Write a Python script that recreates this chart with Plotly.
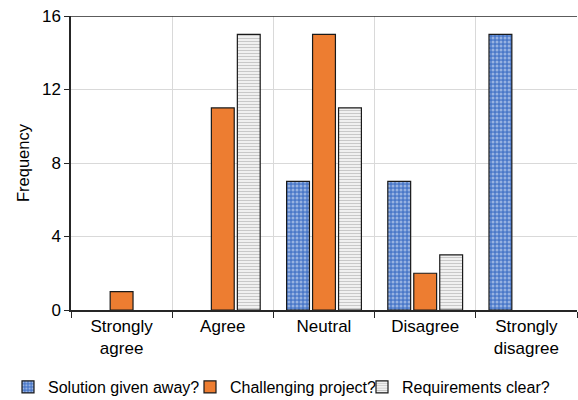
import plotly.graph_objects as go

categories = ["Strongly<br>agree", "Agree", "Neutral", "Disagree", "Strongly<br>disagree"]
solution_given_away = [0, 0, 7, 7, 15]
challenging_project = [1, 11, 15, 2, 0]
requirements_clear = [0, 15, 11, 3, 0]
y_ticks = [0, 4, 8, 12, 16]

FONT = "Liberation Sans, Arial, sans-serif"
W, H = 578, 400
EDGE = dict(color="#1a1a1a", width=1.2)


def drawn(values):
    # zero counts are left blank rather than drawn as flat outlined bars
    return [v if v != 0 else None for v in values]


fig = go.Figure()
fig.add_trace(go.Bar(
    name="Solution given away?", x=categories, y=drawn(solution_given_away), legend="legend",
    marker=dict(
        color="#4472C4", line=EDGE,
        pattern=dict(shape=".", bgcolor="#4a78c8", fgcolor="#e4ecfa",
                     size=4, solidity=0.45, fillmode="overlay"),
    ),
))
fig.add_trace(go.Bar(
    name="Challenging project?", x=categories, y=drawn(challenging_project), legend="legend2",
    marker=dict(color="#ED7D31", line=EDGE),
))
fig.add_trace(go.Bar(
    name="Requirements clear?", x=categories, y=drawn(requirements_clear), legend="legend3",
    marker=dict(
        color="#f2f2f2", line=EDGE,
        pattern=dict(shape="-", bgcolor="#f7f7f7", fgcolor="#9a9a9a",
                     size=3, solidity=0.45, fillmode="overlay"),
    ),
))

legend_common = dict(orientation="h", xref="container", yref="container",
                     yanchor="middle", xanchor="left", font=dict(size=16),
                     itemwidth=30, bgcolor="rgba(0,0,0,0)")

fig.update_layout(
    width=W, height=H,
    margin=dict(l=71, r=1, t=16, b=90, autoexpand=False),
    paper_bgcolor="white", plot_bgcolor="white",
    barmode="group", bargap=0.23, bargroupgap=0.12,
    font=dict(family=FONT, size=16, color="#000000"),
    showlegend=True,
    legend=dict(x=8 / W, y=1 - 387 / H, **legend_common),
    legend2=dict(x=190 / W, y=1 - 387 / H, **legend_common),
    legend3=dict(x=362 / W, y=1 - 387 / H, **legend_common),
    shapes=[dict(type="line", xref="paper", yref="y", x0=0, x1=1,
                 y0=y_ticks[-1], y1=y_ticks[-1],
                 line=dict(color="#262626", width=1.5))],
)
fig.update_xaxes(
    type="category", tickson="boundaries", ticks="outside", ticklen=6,
    tickcolor="#262626", showgrid=True, gridcolor="#d9d9d9", gridwidth=1,
    showline=True, linecolor="#262626", linewidth=1.5,
    tickfont=dict(size=17),
)
fig.update_yaxes(
    range=[0, 16], tickvals=y_ticks, ticks="outside", ticklen=5,
    tickcolor="#262626", showgrid=True, gridcolor="#d9d9d9", gridwidth=1,
    showline=True, linecolor="#262626", linewidth=1.5, zeroline=False,
    title=dict(text="Frequency", font=dict(size=16.5), standoff=8),
    tickfont=dict(size=17),
)

fig.write_html("out.html")
